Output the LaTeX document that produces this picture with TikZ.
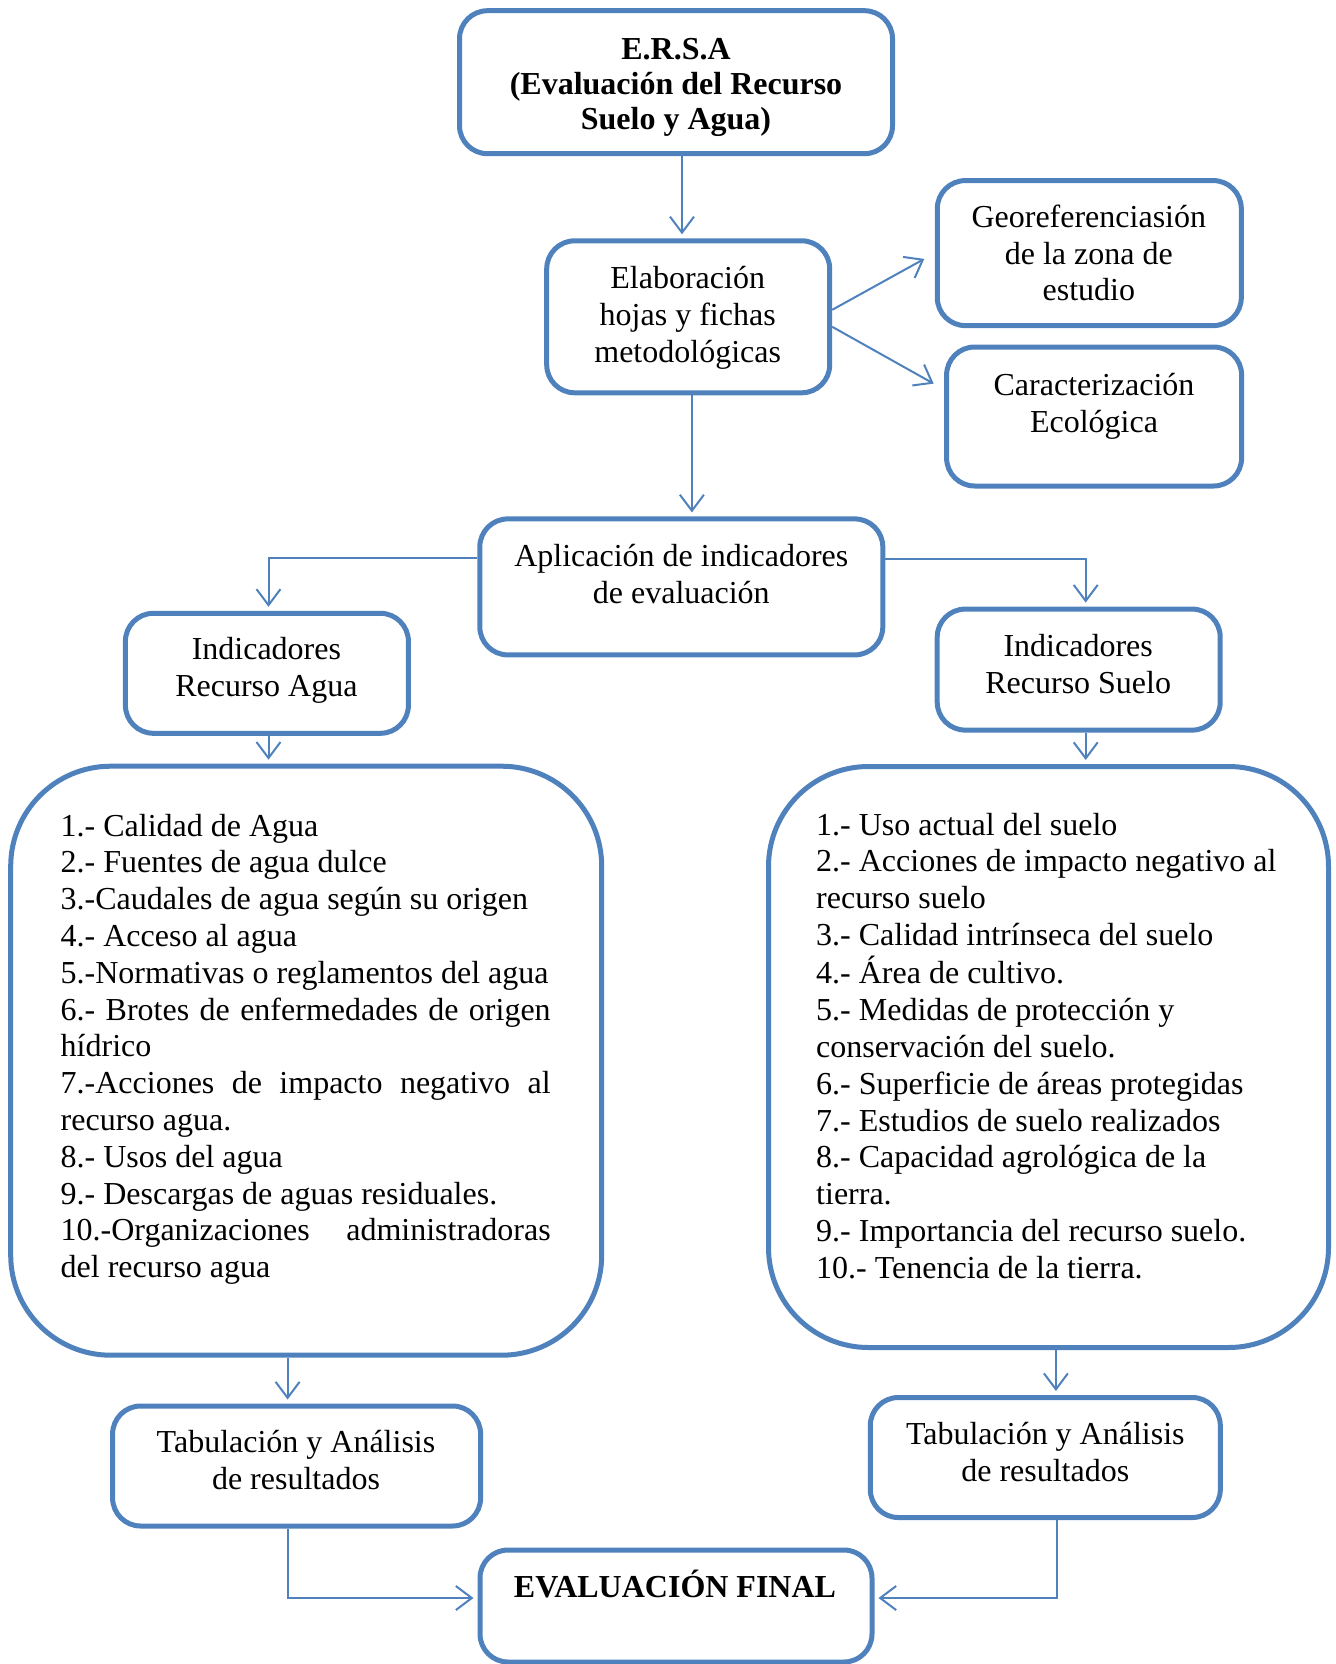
\documentclass[tikz,border=0pt]{standalone}
\usepackage{fontspec}
\setmainfont{Liberation Serif}
\usetikzlibrary{arrows.meta}
\definecolor{bordo}{RGB}{79,129,189}
\newcommand{\mytab}[1]{\begin{tabular}[t]{@{}c@{}}#1\end{tabular}}
\newcommand{\mylist}[1]{\begin{tabular}[t]{@{}l@{}}#1\end{tabular}}
\newcommand{\jline}[1]{\makebox[490pt][s]{#1}}
\begin{document}
\begin{tikzpicture}[x=1pt,y=-1pt,
  box/.style={draw=bordo, line width=5pt, rounded corners=28pt, inner sep=0pt, fill=white},
  bigbox/.style={box, rounded corners=100pt},
  arr/.style={draw=bordo, line width=2pt, -{Straight Barb[length=16pt,width=24pt,line width=2pt]}, shorten >=4pt},
  txt/.style={anchor=base, inner sep=0pt, font=\fontsize{32}{37}\selectfont},
  listtxt/.style={anchor=base west, inner sep=0pt, font=\fontsize{32}{36.8}\selectfont}]
\useasboundingbox (0,0) rectangle (1335,1664);

% boxes
\node[box, minimum width=433pt, minimum height=143pt] (ersa) at (676,82.2) {};
\node[box, minimum width=283pt, minimum height=152pt] (elab) at (688.2,316.8) {};
\node[box, minimum width=304pt, minimum height=145pt] (geo) at (1089.3,253.1) {};
\node[box, minimum width=295pt, minimum height=139pt] (car) at (1094.1,416.5) {};
\node[box, minimum width=403pt, minimum height=136pt] (apl) at (681.3,586.9) {};
\node[box, minimum width=283pt, minimum height=120pt] (inda) at (266.9,673.3) {};
\node[box, minimum width=283pt, minimum height=121pt] (inds) at (1078.7,669.6) {};
\node[bigbox, minimum width=591pt, minimum height=589pt] (lista) at (306.2,1060.7) {};
\node[bigbox, minimum width=560pt, minimum height=581pt] (lists) at (1048.5,1057) {};
\node[box, minimum width=368pt, minimum height=120pt] (tabl) at (296.6,1466) {};
\node[box, minimum width=350pt, minimum height=120pt] (tabr) at (1045.3,1457.5) {};
\node[box, minimum width=392pt, minimum height=112pt] (evalf) at (676,1606) {};

% texts
\node[txt, font=\fontsize{32}{35}\selectfont\bfseries] (ersat) at (676,59.5) {\mytab{E.R.S.A\\(Evaluación del Recurso\\Suelo y Agua)}};
\node[txt] (elabt) at (687.7,288.5) {\mytab{Elaboración\\hojas y fichas\\metodológicas}};
\node[txt, font=\fontsize{32}{36.6}\selectfont] (geot) at (1088.8,227.5) {\mytab{Georeferenciasión\\de la zona de\\estudio}};
\node[txt] (cart) at (1094,395.5) {\mytab{Caracterización\\Ecológica}};
\node[txt] (aplt) at (681.3,566.5) {\mytab{Aplicación de indicadores\\de evaluación}};
\node[txt] (indat) at (266.4,659.5) {\mytab{Indicadores\\Recurso Agua}};
\node[txt] (indst) at (1078.2,656.5) {\mytab{Indicadores\\Recurso Suelo}};
\node[txt] (tablt) at (296,1452.5) {\mytab{Tabulación y Análisis\\de resultados}};
\node[txt] (tabrt) at (1045.3,1444.5) {\mytab{Tabulación y Análisis\\de resultados}};
\node[txt, font=\fontsize{32}{37}\selectfont\bfseries] (evalt) at (675,1597) {EVALUACIÓN FINAL};

\node[listtxt] (listat) at (60.5,836) {\mylist{%
1.- Calidad de Agua\\
2.- Fuentes de agua dulce\\
3.-Caudales de agua según su origen\\
4.- Acceso al agua\\
5.-Normativas o reglamentos del agua\\
\jline{6.- Brotes de enfermedades de origen}\\
hídrico\\
\jline{7.-Acciones de impacto negativo al}\\
recurso agua.\\
8.- Usos del agua\\
9.- Descargas de aguas residuales.\\
\jline{10.-Organizaciones administradoras}\\
del recurso agua}};

\node[listtxt] (listst) at (816,835) {\mylist{%
1.- Uso actual del suelo\\
2.- Acciones de impacto negativo al\\
recurso suelo\\
3.- Calidad intrínseca del suelo\\
4.- Área de cultivo.\\
5.- Medidas de protección y\\
conservación del suelo.\\
6.- Superficie de áreas protegidas\\
7.- Estudios de suelo realizados\\
8.- Capacidad agrológica de la\\
tierra.\\
9.- Importancia del recurso suelo.\\
10.- Tenencia de la tierra.}};

% connectors
\draw[arr] ([xshift=6pt]ersa.south) -- ([xshift=6pt]ersa.south |- elab.north);
\draw[arr, shorten >=12pt] ([yshift=7pt]elab.east) -- ([yshift=0pt]geo.west);
\draw[arr, shorten >=12pt] ([yshift=-10pt]elab.east) -- ([yshift=27pt]car.west);
\draw[arr] ([xshift=3.7pt]elab.south) -- ([xshift=3.7pt]elab.south |- apl.north);
\draw[arr] ([yshift=28.7pt]apl.west) -| ([xshift=1.6pt]inda.north);
\draw[arr] ([yshift=27.6pt]apl.east) -| ([xshift=7pt]inds.north);
\draw[arr] ([xshift=1.6pt]inda.south) -- ([xshift=1.6pt]inda.south |- lista.north);
\draw[arr] ([xshift=7pt]inds.south) -- ([xshift=7pt]inds.south |- lists.north);
\draw[arr] ([xshift=-9pt]tabl.north |- lista.south) -- ([xshift=-9pt]tabl.north);
\draw[arr] ([xshift=10.6pt]tabr.north |- lists.south) -- ([xshift=10.6pt]tabr.north);
\draw[arr] ([xshift=-9pt]tabl.south) |- ([yshift=8pt]evalf.west);
\draw[arr] ([xshift=11.7pt]tabr.south) |- ([yshift=8pt]evalf.east);
\end{tikzpicture}
\end{document}
